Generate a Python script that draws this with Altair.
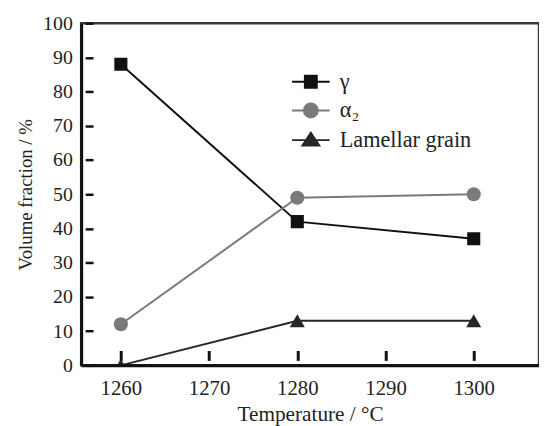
import altair as alt
import pandas as pd

temperatures = [1260, 1280, 1300]
gamma = [88, 42, 37]
alpha2 = [12, 49, 50]
lamellar = [0, 13, 13]

series_names = ["γ", "α₂", "Lamellar grain"]
series_colors = ["#111111", "#7a7a7a", "#262626"]
x_ticks = [1260, 1270, 1280, 1290, 1300]
y_ticks = [0, 10, 20, 30, 40, 50, 60, 70, 80, 90, 100]

rows = []
for name, vals in zip(series_names, [gamma, alpha2, lamellar]):
    for t, v in zip(temperatures, vals):
        rows.append({"temp": t, "value": v, "series": name})
df = pd.DataFrame(rows)

W, H = 463, 346
FONT = "'Liberation Serif', 'Times New Roman', Times, serif"
TXT = "#222222"

xscale = alt.Scale(domain=[1255.5, 1307.4], nice=False, zero=False)
yscale = alt.Scale(domain=[0, 100], nice=False)
cscale = alt.Scale(domain=series_names, range=series_colors)

base = alt.Chart(df)

lines = base.mark_line(strokeWidth=2).encode(
    x=alt.X("temp:Q", scale=xscale, title="Temperature / °C",
            axis=alt.Axis(orient="bottom", values=x_ticks, format="d", ticks=False,
                          labelFontSize=21, titleFontSize=21.5,
                          labelPadding=13, titlePadding=5, domainWidth=3, domainColor="#111",
                          zindex=1)),
    y=alt.Y("value:Q", scale=yscale, title="Volume fraction / %",
            axis=alt.Axis(orient="left", values=y_ticks, ticks=False,
                          labelFontSize=20, titleFontSize=19,
                          labelPadding=9, titlePadding=7, domainWidth=3, domainColor="#111",
                          zindex=1)),
    color=alt.Color("series:N", scale=cscale, legend=None),
    detail="series:N",
)

points = base.mark_point(filled=True, opacity=1, clip=True).encode(
    x=alt.X("temp:Q", scale=xscale,
            axis=alt.Axis(orient="top", offset=-341, values=x_ticks, labels=False, domain=False,
                          ticks=True, tickSize=10, tickWidth=3, tickColor="#111", title=None,
                          zindex=2)),
    y=alt.Y("value:Q", scale=yscale,
            axis=alt.Axis(orient="right", offset=-(W - 4), values=y_ticks, labels=False, domain=False,
                          ticks=True, tickSize=8, tickWidth=2.5, tickColor="#111", title=None,
                          zindex=2)),
    color=alt.Color("series:N", scale=cscale, legend=None),
    shape=alt.Shape("series:N", scale=alt.Scale(domain=series_names,
                                                range=["square", "circle", "triangle-up"]),
                    legend=None),
    size=alt.Size("series:N", scale=alt.Scale(domain=series_names, range=[175, 230, 380]),
                  legend=None),
)

legend_paths = [
    "M-1.9,0H1.9M-0.6,-0.6H0.6V0.6H-0.6Z",
    "M-1.9,0H1.9M0.7,0A0.7,0.7,0,1,1,-0.7,0A0.7,0.7,0,1,1,0.7,0Z",
    "M-1.9,0H1.9M0,-0.75L0.85,0.55H-0.85Z",
]
leg = alt.Legend(title=None, orient="none", legendX=221, legendY=48,
                 symbolSize=400, symbolStrokeWidth=2, symbolOpacity=1, labelOffset=18,
                 rowPadding=6, labelFontSize=22.5, labelFont=FONT, labelColor=TXT,
                 padding=0)

legend_layer = base.mark_point(filled=True, opacity=1).encode(
    x=alt.X("temp:Q", scale=xscale, axis=None),
    y=alt.Y("value:Q", scale=yscale, axis=None),
    fill=alt.Fill("series:N", scale=alt.Scale(domain=series_names, range=series_colors), legend=leg),
    stroke=alt.Stroke("series:N", scale=alt.Scale(domain=series_names, range=series_colors), legend=leg),
    shape=alt.Shape("series:N", scale=alt.Scale(domain=series_names, range=legend_paths), legend=leg),
).transform_filter("false")

chart = alt.layer(lines, points, legend_layer).resolve_scale(
    shape="independent", fill="independent", stroke="independent"
).resolve_axis(x="independent", y="independent").properties(
    width=W, height=H, padding={"left": 9, "top": 3, "right": 0, "bottom": 0},
    background="white",
).configure_view(stroke="#3a3a3a", strokeWidth=2.5).configure_axis(
    grid=False, labelFont=FONT, titleFont=FONT, labelFontSize=20, titleFontSize=20,
    labelColor=TXT, titleColor=TXT, titleFontWeight="normal",
)

chart.save("out.html", embed_options={"renderer": "svg", "actions": False})
